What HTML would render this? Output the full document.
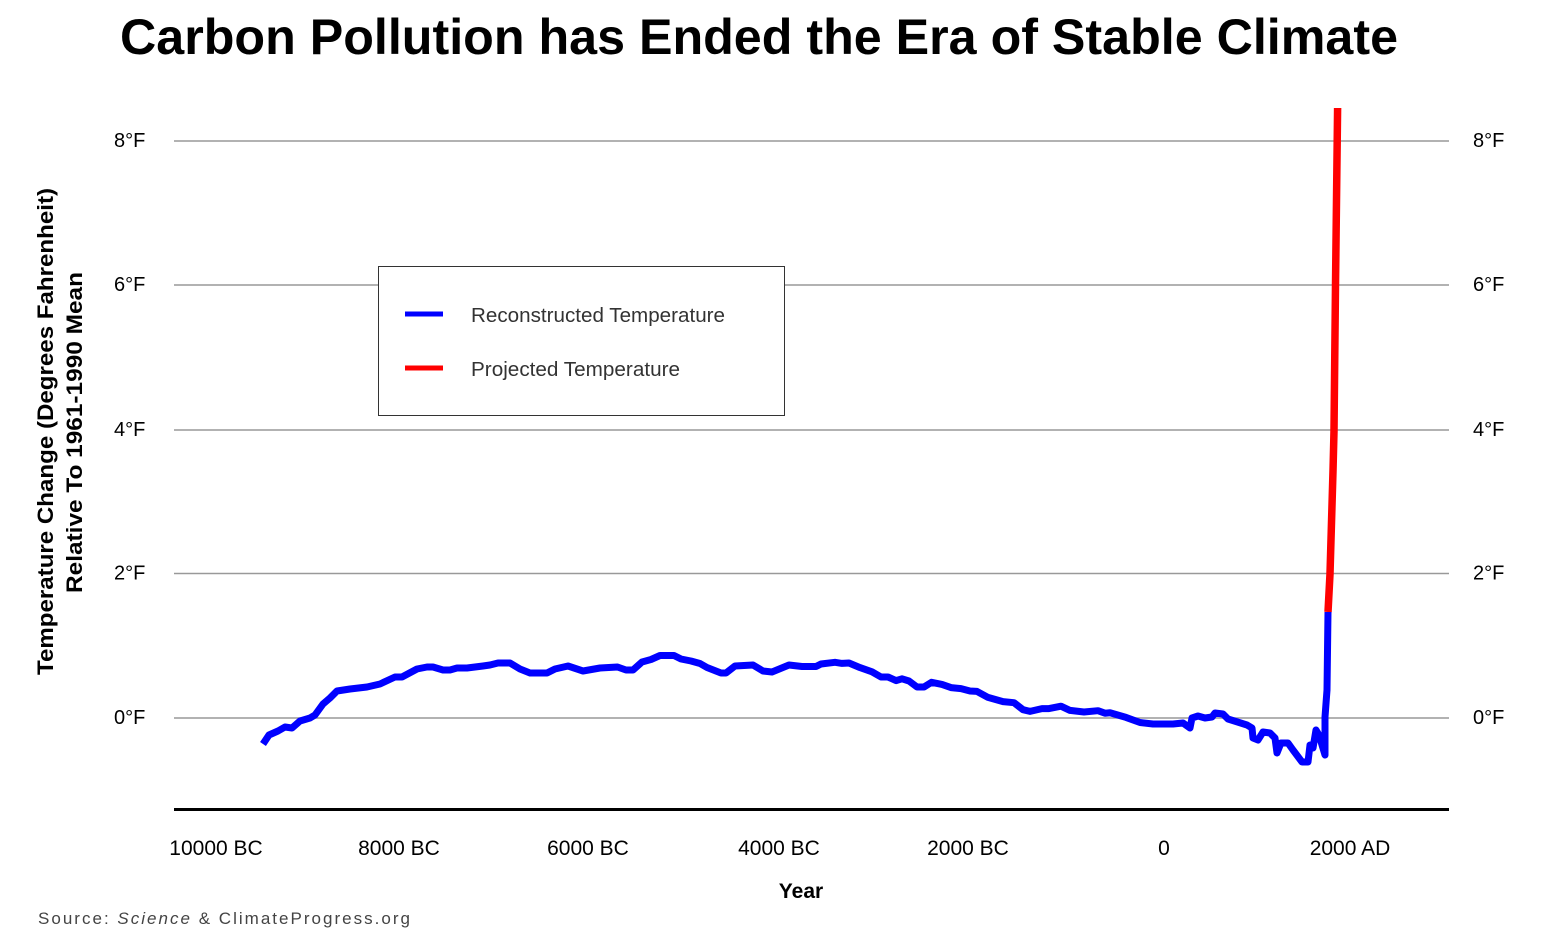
<!DOCTYPE html>
<html>
<head>
<meta charset="utf-8">
<style>
  html,body{margin:0;padding:0;background:#fff;}
  svg{display:block;}
  text{font-family:"Liberation Sans",Arial,sans-serif;}
</style>
</head>
<body>
<svg width="1543" height="942" viewBox="0 0 1543 942" xmlns="http://www.w3.org/2000/svg">
  <rect x="0" y="0" width="1543" height="942" fill="#fff"/>

  <!-- Title -->
  <text x="120" y="54" font-size="50" font-weight="bold" fill="#000" textLength="1278" lengthAdjust="spacingAndGlyphs">Carbon Pollution has Ended the Era of Stable Climate</text>

  <!-- Gridlines -->
  <g stroke="#999" stroke-width="1.6">
    <line x1="174" y1="141" x2="1449" y2="141"/>
    <line x1="174" y1="285" x2="1449" y2="285"/>
    <line x1="174" y1="430" x2="1449" y2="430"/>
    <line x1="174" y1="573.5" x2="1449" y2="573.5"/>
    <line x1="174" y1="718" x2="1449" y2="718"/>
  </g>

  <!-- Bottom axis -->
  <line x1="174" y1="809.5" x2="1449" y2="809.5" stroke="#000" stroke-width="3"/>

  <!-- Left tick labels -->
  <g font-size="20" fill="#000">
    <text x="114" y="147">8°F</text>
    <text x="114" y="291">6°F</text>
    <text x="114" y="436">4°F</text>
    <text x="114" y="579.5">2°F</text>
    <text x="114" y="724">0°F</text>
  </g>
  <!-- Right tick labels -->
  <g font-size="20" fill="#000">
    <text x="1473" y="147">8°F</text>
    <text x="1473" y="291">6°F</text>
    <text x="1473" y="436">4°F</text>
    <text x="1473" y="579.5">2°F</text>
    <text x="1473" y="724">0°F</text>
  </g>

  <!-- Y axis title -->
  <text transform="translate(53,431.5) rotate(-90)" text-anchor="middle" font-size="22" font-weight="bold" fill="#000" textLength="487" lengthAdjust="spacingAndGlyphs">Temperature Change (Degrees Fahrenheit)</text>
  <text transform="translate(82,432.5) rotate(-90)" text-anchor="middle" font-size="22" font-weight="bold" fill="#000" textLength="321" lengthAdjust="spacingAndGlyphs">Relative To 1961-1990 Mean</text>

  <!-- X tick labels -->
  <g font-size="21" fill="#000" text-anchor="middle">
    <text x="216" y="855">10000 BC</text>
    <text x="399" y="855">8000 BC</text>
    <text x="588" y="855">6000 BC</text>
    <text x="779" y="855">4000 BC</text>
    <text x="968" y="855">2000 BC</text>
    <text x="1164" y="855">0</text>
    <text x="1350" y="855">2000 AD</text>
  </g>
  <text x="801" y="898" font-size="21" font-weight="bold" fill="#000" text-anchor="middle">Year</text>

  <!-- Source -->
  <text x="38" y="924" font-size="17" fill="#444" textLength="372" lengthAdjust="spacing">Source: <tspan font-style="italic">Science</tspan> &amp; ClimateProgress.org</text>

  <!-- Legend -->
  <rect x="378.5" y="266.5" width="406" height="149" fill="#fff" stroke="#333" stroke-width="1"/>
  <line x1="405" y1="314" x2="443" y2="314" stroke="#0000ff" stroke-width="5"/>
  <line x1="405" y1="368" x2="443" y2="368" stroke="#ff0000" stroke-width="5"/>
  <text x="471" y="322" font-size="20" fill="#333" textLength="254" lengthAdjust="spacingAndGlyphs">Reconstructed Temperature</text>
  <text x="471" y="376" font-size="20" fill="#333" textLength="209" lengthAdjust="spacingAndGlyphs">Projected Temperature</text>

  <!-- Projected (red) -->
  <polyline fill="none" stroke="#ff0000" stroke-width="7.5" stroke-linejoin="round"
    points="1328,612 1330,574 1333,471 1334,431 1335.5,285 1337.6,108"/>

  <!-- Reconstructed (blue) -->
  <polyline fill="none" stroke="#0000ff" stroke-width="7" stroke-linejoin="round" stroke-linecap="butt"
    points="263,744 269,735 278,731 285,727 292,728 300,721 310,718 315,715 323,704 330,698 337,691 350,689 367,687 380,684 395,677 402,677 417,669 427,667 433,667 443,670 450,670 457,668 467,668 475,667 483,666 490,665 498,663 510,663 520,669 530,673 547,673 555,669 568,666 583,671 600,668 617.5,667 626,670 633,670 642,662 651,659.5 660,655.5 674,655.5 681,659 691,661 700,663.5 707,667.5 721,673 726,673 735,666 753,665 763,671 772,672 789,665 802,666.5 816,666.5 821,664 835,662.3 842,663.4 849,663 860,667.6 872,671.8 881,677 888,677 896,680.6 902,678.8 909,681 917,687 924,687 931.5,682.3 942,684.4 951,687.6 961,688.6 970,691 977,691.4 988,697.4 1003,701.6 1014,702.7 1023,709.7 1030,711.4 1042,708.6 1049,708.6 1061,706.2 1070,710.4 1084,712 1098,710.7 1105,713.2 1110,712.8 1126,717.4 1140,722.5 1153,724 1173,724 1183,723 1190,728 1192,718 1198,716 1205,718 1212,717 1215,713 1223,714 1228,719 1247,725 1252,728 1253,738 1258,740 1263,732 1270,733 1275,738 1277,753 1281,743 1288,743 1293,750 1302,762 1308,762 1310,745 1313,748 1316,730 1319,735 1325,755 1325,717 1327,690 1328,612"/>
</svg>
</body>
</html>
